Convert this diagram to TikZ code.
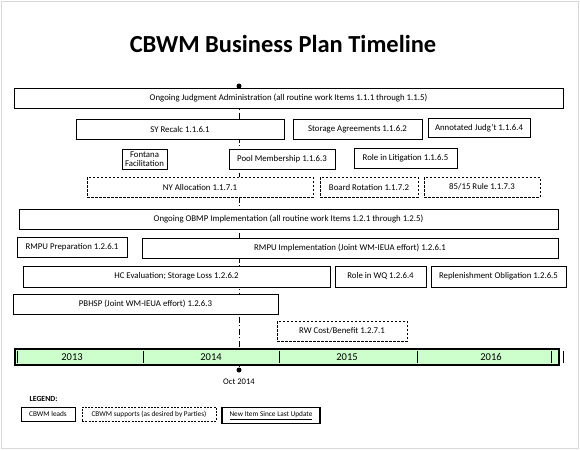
\documentclass[tikz,border=0pt]{standalone}
\usepackage{fontspec}
\setmainfont{Carlito}
\usepackage{tikz}

\definecolor{barfill}{HTML}{CCFFCC}
\definecolor{framegray}{HTML}{D8D8D8}

\tikzset{
  plan/.style={draw, fill=white, line width=0.9pt, inner sep=0pt,
    minimum height=20pt, font=\fontsize{8.8}{8.6}\selectfont, align=center},
  support/.style={plan, dashed, dash pattern=on 2.5pt off 1.5pt, line width=0.8pt},
  legendbox/.style={draw, fill=white, line width=0.8pt, inner sep=0pt,
    minimum height=14pt, font=\fontsize{7.3}{8}\selectfont},
  dot/.style={circle, fill=black, inner sep=0pt, minimum size=5pt},
  today/.style={line width=0.8pt, dash pattern=on 6pt off 2.5pt on 1pt off 2.5pt},
  year/.style={font=\fontsize{10.5}{12}\selectfont}
}

\begin{document}
\begin{tikzpicture}[x=1pt,y=-1pt]
\useasboundingbox (0,0) rectangle (580,450);
\draw[framegray, line width=1pt] (1,1) rectangle (578,448);

\node[font=\bfseries\fontsize{24.5}{28}\selectfont] (title) at (283,44) {CBWM Business Plan Timeline};

% today marker
\node[dot] (topdot) at (239,86) {};
\node[dot] (octdot) at (239,370) {};
\draw[today] (topdot) -- (octdot);
\node[font=\fontsize{8.6}{10}\selectfont] (octlabel) at (239,382) {Oct 2014};

% judgment administration
\node[plan, minimum width=549pt] (judgadmin) at (288.5,98) {Ongoing Judgment Administration (all routine work Items 1.1.1 through 1.1.5)};
\node[plan, minimum width=208pt] (syrecalc) at (180,129) {SY Recalc 1.1.6.1};
\node[plan, minimum width=129pt] (storage) at (357.5,129) {Storage Agreements 1.1.6.2};
\node[plan, minimum width=102pt, minimum height=19pt] (annotated) at (479,128) {Annotated Judg't 1.1.6.4};
\node[plan, minimum width=45pt] (fontana) at (144.5,159) {Fontana\\Facilitation};
\node[plan, minimum width=106pt] (pool) at (282,159) {Pool Membership 1.1.6.3};
\node[plan, minimum width=103pt] (litigation) at (405.5,158) {Role in Litigation 1.1.6.5};
\node[support, minimum width=226pt] (nyalloc) at (200,187) {NY Allocation 1.1.7.1};
\node[support, minimum width=98pt] (board) at (369,187) {Board Rotation 1.1.7.2};
\node[support, minimum width=116pt] (rule) at (482,187) {85/15 Rule 1.1.7.3};

% OBMP implementation
\node[plan, minimum width=539pt] (obmp) at (288.5,219) {Ongoing OBMP Implementation (all routine work Items 1.2.1 through 1.2.5)};
\node[plan, minimum width=110pt] (rmpuprep) at (72,247) {RMPU Preparation 1.2.6.1};
\node[plan, minimum width=416pt] (rmpuimpl) at (350,248) {RMPU Implementation (Joint WM-IEUA effort) 1.2.6.1};
\node[plan, minimum width=307pt, minimum height=21pt] (hceval) at (176.5,276.5) {HC Evaluation; Storage Loss 1.2.6.2};
\node[plan, minimum width=91pt, minimum height=21pt] (rolewq) at (380.5,276.5) {Role in WQ 1.2.6.4};
\node[plan, minimum width=135pt, minimum height=21pt] (replenish) at (498.5,276.5) {Replenishment Obligation 1.2.6.5};
\node[plan, minimum width=265pt] (pbhsp) at (145.5,304) {PBHSP (Joint WM-IEUA effort) 1.2.6.3};
\node[support, minimum width=130pt] (rwcost) at (342,331) {RW Cost/Benefit 1.2.7.1};

% timeline bar
\node[draw, fill=barfill, line width=1.2pt, inner sep=0pt, minimum width=544pt, minimum height=16pt] (timebar) at (287,357) {};
\foreach \tx in {17,143,279,417,551,563}
  \draw[line width=0.9pt] (\tx,351) -- (\tx,363);
\foreach \yr/\yx in {2013/72,2014/211,2015/347,2016/491}
  \node[year] (yr\yr) at (\yx,357) {\yr};

% legend
\node[font=\bfseries\fontsize{7.8}{9}\selectfont, anchor=west] (legend) at (26,399) {LEGEND:};
\node[legendbox, minimum width=54pt] (legleads) at (48,414) {CBWM leads};
\node[legendbox, dashed, dash pattern=on 2pt off 1.3pt, minimum width=134pt] (legsupports) at (149,414) {CBWM supports (as desired by Parties)};
\node[legendbox, line width=1.6pt, minimum width=98pt, minimum height=16pt] (legnew) at (271,415.5) {\underline{New Item Since Last Update}};
\end{tikzpicture}
\end{document}
